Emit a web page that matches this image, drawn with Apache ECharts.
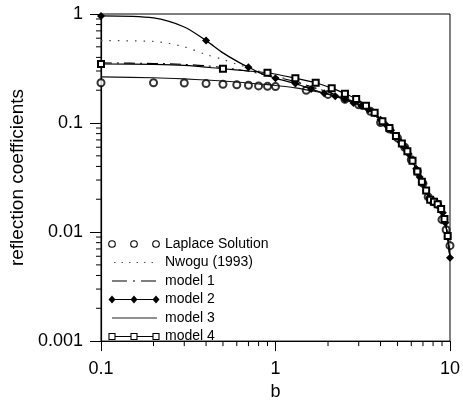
<!DOCTYPE html>
<html><head><meta charset="utf-8">
<script src="https://cdn.jsdelivr.net/npm/echarts@6/dist/echarts.min.js"></script>
<style>html,body{margin:0;padding:0;background:#fff}#c{width:463px;height:406px}</style>
</head><body><div id="c"></div>
<script>
// axis ticks
const xMinorTicks = [0.2,0.3,0.4,0.5,0.6,0.7,0.8,0.9,2,3,4,5,6,7,8,9];
const yMinorTicks = [0.002,0.003,0.004,0.005,0.006,0.007,0.008,0.009,0.02,0.03,0.04,0.05,0.06,0.07,0.08,0.09,0.2,0.3,0.4,0.5,0.6,0.7,0.8,0.9];

// legend labels
const legendNames = ['Laplace Solution', 'Nwogu (1993)', 'model 1', 'model 2', 'model 3', 'model 4'];

// Laplace Solution (open circles)
const laplaceB = [0.1,0.2,0.3,0.4,0.5,0.6,0.7,0.8,0.9,1.0,1.5,2,2.5,3,3.5,4,4.5,5,5.5,6,6.5,7,7.5,8,8.5,9,9.5,10];
const laplaceR = [0.234,0.234,0.233,0.230,0.227,0.224,0.222,0.219,0.217,0.216,0.200,0.183,0.165,0.147,0.128,0.101,0.088,0.073,0.060,0.046,0.036,0.028,0.021,0.019,0.018,0.013,0.0105,0.0075];

// common abscissae for Nwogu, model 1, model 3
const lineB = [0.1,0.2,0.3,0.4,0.5,0.6,0.7,0.8,0.9,1.0,1.3,1.6,2.0,2.5,3.0,3.5,4.0,4.5,5.0,5.5,6.0,6.5,7.0,7.5,8.0,8.5,9.0,9.5,10.0];
const nwoguR  = [0.57,0.56,0.50,0.425,0.383,0.346,0.322,0.300,0.284,0.270,0.240,0.215,0.192,0.170,0.150,0.130,0.106,0.090,0.073,0.060,0.047,0.036,0.028,0.0215,0.0192,0.018,0.0156,0.0112,0.0058];
const model1R = [0.356,0.352,0.345,0.335,0.322,0.310,0.298,0.285,0.275,0.265,0.240,0.215,0.193,0.170,0.150,0.130,0.106,0.090,0.073,0.060,0.047,0.036,0.028,0.0215,0.0192,0.018,0.0156,0.0112,0.0058];
const model3R = [0.265,0.260,0.254,0.248,0.243,0.238,0.233,0.228,0.225,0.221,0.210,0.198,0.185,0.167,0.148,0.129,0.105,0.090,0.073,0.060,0.047,0.036,0.028,0.0215,0.0192,0.018,0.0156,0.0112,0.0058];

// model 2 (filled diamonds)
const model2B = [0.1,0.2,0.3,0.4,0.5,0.6,0.7,0.8,0.9,1.0,1.3,1.6,1.9,2.2,2.5,2.8,3.1,3.4,3.7,4.0,4.3,4.6,4.9,5.2,5.5,5.8,6.1,6.4,6.7,7.0,7.3,7.6,7.9,8.2,8.5,8.8,9.1,9.4,9.7,10.0];
const model2R = [0.96,0.92,0.76,0.57,0.44,0.37,0.325,0.292,0.272,0.257,0.230,0.205,0.188,0.176,0.164,0.153,0.143,0.133,0.123,0.107,0.096,0.086,0.075,0.067,0.060,0.052,0.045,0.038,0.032,0.028,0.024,0.0205,0.0193,0.0187,0.0180,0.0168,0.0150,0.0122,0.0090,0.0058];
const model2Marks = [0.1,0.4,0.7,1.0,1.3,1.6,1.9,2.2,2.5,2.8,3.1,3.4,3.7,4.0,4.3,4.6,4.9,5.2,5.5,5.8,6.1,6.4,6.7,7.0,7.3,7.6,7.9,8.2,8.5,8.8,9.1,9.4,9.7,10.0];

// model 4 (open squares)
const model4B = [0.1,0.2,0.3,0.5,0.7,0.9,1.3,1.7,2.1,2.5,2.9,3.3,3.7,4.1,4.5,4.9,5.3,5.7,6.1,6.5,6.9,7.3,7.7,8.1,8.5,8.9,9.3,9.7,10.0];
const model4R = [0.348,0.345,0.338,0.315,0.300,0.289,0.258,0.234,0.209,0.186,0.166,0.144,0.124,0.104,0.090,0.076,0.065,0.055,0.045,0.036,0.029,0.024,0.0198,0.0190,0.0180,0.0163,0.0132,0.0092,0.0058];
const model4Marks = [0.1,0.5,0.9,1.3,1.7,2.1,2.5,2.9,3.3,3.7,4.1,4.5,4.9,5.3,5.7,6.1,6.5,6.9,7.3,7.7,8.1,8.5,8.9,9.3,9.7];

const FONT = 'Liberation Sans, Arial, Helvetica, sans-serif';
const pairs = (b, r) => b.map((x, i) => [x, r[i]]);
const marked = (b, r, marks, sym) => b.map((x, i) => ({value: [x, r[i]], symbol: marks.includes(x) ? sym : 'none'}));

// legend drawn as graphic (icon with three markers like the original)
const LG = {x0: 110, x1: 157, textX: 165, top: 244, pitch: 18.5};
function legendGraphic() {
  const els = [];
  const ln = (y, dash, stroke, x0, x1) => ({type: 'line', silent: true, shape: {x1: x0 ?? LG.x0, y1: y, x2: x1 ?? LG.x1, y2: y}, style: {stroke: stroke || '#000', lineWidth: 1.1, lineDash: dash || null}});
  const mk = [LG.x0 + 2, (LG.x0 + LG.x1) / 2 + 0.5, LG.x1 - 1];
  legendNames.forEach((name, i) => {
    const y = LG.top + LG.pitch * i;
    if (i === 0) mk.forEach(cx => els.push({type: 'circle', silent: true, shape: {cx, cy: y, r: 3.3}, style: {fill: '#fff', stroke: '#000', lineWidth: 1.1}}));
    if (i === 1) els.push(ln(y, [1.5, 6], '#555', LG.x0 + 4));
    if (i === 2) els.push(ln(y, [15, 6, 2, 6], '#000', LG.x0 + 2));
    if (i === 3) { els.push(ln(y)); mk.forEach(cx => els.push({type: 'polygon', silent: true, shape: {points: [[cx, y - 4], [cx + 3.5, y], [cx, y + 4], [cx - 3.5, y]]}, style: {fill: '#000'}})); }
    if (i === 4) els.push(ln(y, null, '#222', LG.x0 + 2));
    if (i === 5) { els.push(ln(y)); mk.forEach(cx => els.push({type: 'rect', silent: true, shape: {x: cx - 3, y: y - 3, width: 6, height: 6}, style: {fill: '#fff', stroke: '#000', lineWidth: 1.1}})); }
    els.push({type: 'text', silent: true, x: LG.textX, y: y, style: {text: name, fontFamily: FONT, fontSize: 14, fill: '#000', verticalAlign: 'middle', align: 'left'}});
  });
  return els;
}

const chart = echarts.init(document.getElementById('c'), null, {renderer: 'canvas'});
chart.setOption({
  animation: false,
  backgroundColor: '#fff',
  grid: {left: 101, right: 10, top: 14, bottom: 54, show: true, borderColor: '#000', borderWidth: 1, backgroundColor: 'transparent'},
  xAxis: {
    type: 'log', logBase: 10, min: 0.1, max: 10,
    name: 'b', nameLocation: 'middle', nameGap: 36,
    nameTextStyle: {fontFamily: FONT, fontSize: 18, color: '#000'},
    axisLine: {lineStyle: {color: '#000', width: 1.2}},
    axisTick: {inside: false, length: 10, lineStyle: {color: '#000'}},
    axisLabel: {fontFamily: FONT, fontSize: 18, color: '#000', margin: 19},
    splitLine: {show: false}
  },
  yAxis: {
    type: 'log', logBase: 10, min: 0.001, max: 1,
    name: 'reflection coefficients', nameLocation: 'middle', nameGap: 34,
    nameTextStyle: {fontFamily: FONT, fontSize: 19, color: '#000'},
    axisLine: {lineStyle: {color: '#000', width: 1.2}},
    axisTick: {inside: false, length: 11, lineStyle: {color: '#000'}},
    axisLabel: {fontFamily: FONT, fontSize: 18, color: '#000', margin: 18},
    splitLine: {show: false}
  },
  graphic: legendGraphic(),
  series: [
    {
      name: legendNames[0], type: 'scatter', data: pairs(laplaceB, laplaceR),
      symbol: 'emptyCircle', symbolSize: 7, itemStyle: {color: '#000', borderWidth: 1.1}, silent: true
    },
    {
      name: legendNames[1], type: 'line', data: pairs(lineB, nwoguR), symbol: 'none', smooth: 0.3,
      lineStyle: {color: '#444', width: 1.2, type: [1.5, 7]}, itemStyle: {color: '#444'}, silent: true
    },
    {
      name: legendNames[2], type: 'line', data: pairs(lineB, model1R), symbol: 'none', smooth: 0.3,
      lineStyle: {color: '#000', width: 1.1, type: [11, 5, 2, 5]}, itemStyle: {color: '#000'}, silent: true
    },
    {
      name: legendNames[3], type: 'line', data: marked(model2B, model2R, model2Marks, 'diamond'),
      symbol: 'diamond', symbolSize: 8, smooth: 0.3,
      lineStyle: {color: '#000', width: 1.3}, itemStyle: {color: '#000'}, silent: true
    },
    {
      name: legendNames[4], type: 'line', data: pairs(lineB, model3R), symbol: 'none', smooth: 0.3,
      lineStyle: {color: '#111', width: 1.1}, itemStyle: {color: '#111'}, silent: true
    },
    {
      name: legendNames[5], type: 'line', data: marked(model4B, model4R, model4Marks, 'emptyRect'),
      symbol: 'emptyRect', symbolSize: 6, smooth: 0.3,
      lineStyle: {color: '#000', width: 1.1}, itemStyle: {color: '#000', borderWidth: 1.1}, silent: true
    },
    {
      type: 'custom', silent: true, clip: false, z: 5,
      data: xMinorTicks.map(v => [v, 0.001]),
      renderItem: (params, api) => {
        const p = api.coord([api.value(0), api.value(1)]);
        return {type: 'line', shape: {x1: p[0], y1: p[1], x2: p[0], y2: p[1] + 5}, style: {stroke: '#000', lineWidth: 1}};
      }
    },
    {
      type: 'custom', silent: true, clip: false, z: 5,
      data: yMinorTicks.map(v => [0.1, v]),
      renderItem: (params, api) => {
        const p = api.coord([api.value(0), api.value(1)]);
        return {type: 'line', shape: {x1: p[0] - 5, y1: p[1], x2: p[0], y2: p[1]}, style: {stroke: '#000', lineWidth: 1}};
      }
    }
  ]
});
</script></body></html>
